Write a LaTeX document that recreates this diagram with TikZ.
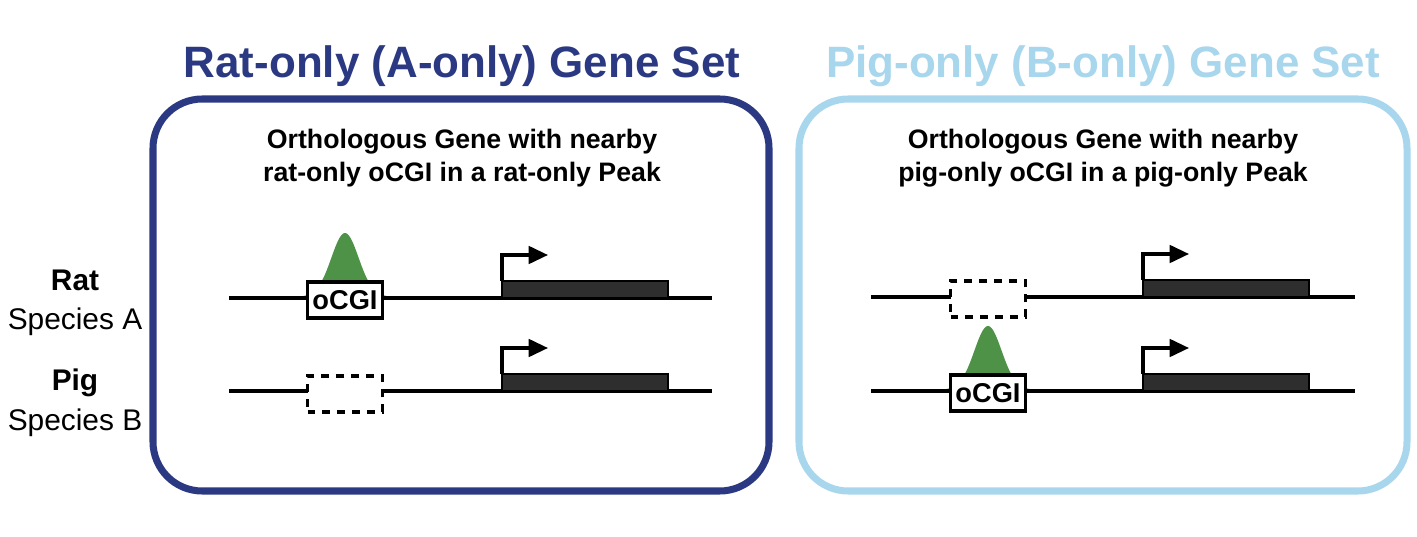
\documentclass[tikz,border=0pt]{standalone}
\usepackage{fontspec}
\setmainfont{Liberation Sans}
\usetikzlibrary{arrows.meta}
\definecolor{ratblue}{RGB}{43,57,130}
\definecolor{pigblue}{RGB}{168,214,236}
\definecolor{peakgreen}{RGB}{78,146,72}
\tikzset{
  setbox/.style={line width=4pt, rounded corners=28pt},
  settitle/.style={font=\fontsize{25}{30}\selectfont\bfseries},
  subtitle/.style={font=\fontsize{15.2}{19}\selectfont\bfseries, align=center},
  dna/.style={line width=1.9pt},
  genebar/.style={fill=black!82, draw=black, line width=1.6pt},
  cgibox/.style={draw, line width=1.8pt, fill=white, minimum width=1.5cm, minimum height=0.72cm, inner sep=0pt, font=\fontsize{15.5}{18}\selectfont\bfseries},
  emptybox/.style={cgibox, dashed, dash pattern=on 4.5pt off 4pt},
  tss/.style={line width=1.8pt, -{Triangle[length=11pt,width=10pt]}},
  species/.style={font=\fontsize{17}{22.5}\selectfont, align=center}
}
% gene with promoter arrow: #1 = left x, #2 = line y
\newcommand{\genebody}[2]{
  \draw[genebar] (#1,#2) rectangle ++(166,-17);
  \draw[tss] (#1,#2-17) -- ++(0,-26) -- ++(46,0);
}
% peak: #1 = centre x, #2 = base y, #3 = height
\newcommand{\peak}[3]{
  \fill[peakgreen] plot[domain=-58:58, samples=80, smooth] ({#1+\x},{#2-#3*exp(-(\x/19)^2)-5*exp(-(\x/38)^2)}) -- cycle;
}
\begin{document}
\begin{tikzpicture}[x=0.02cm, y=-0.02cm]
  \useasboundingbox (0,0) rectangle (1417,537);
  % titles and frames
  \node[settitle, text=ratblue] (ratTitle) at (462,66) {Rat-only (A-only) Gene Set};
  \node[settitle, text=pigblue] (pigTitle) at (1103,66) {Pig-only (B-only) Gene Set};
  \draw[setbox, ratblue] (153,99) rectangle (769,491);
  \draw[setbox, pigblue] (799,99) rectangle (1407,491);
  \node[subtitle] (ratSub) at (462,158) {Orthologous Gene with nearby\\rat-only oCGI in a rat-only Peak};
  \node[subtitle] (pigSub) at (1103,158) {Orthologous Gene with nearby\\pig-only oCGI in a pig-only Peak};

  % species labels
  \node[species] (ratLabel) at (75,303) {\textbf{Rat}\\Species A};
  \node[species] (pigLabel) at (75,403) {\textbf{Pig}\\Species B};

  % rat-only set
  \peak{345}{298}{60}
  \draw[dna] (229,298) -- (712,298);
  \draw[dna] (229,391) -- (712,391);
  \node[cgibox] (ratCGI) at (345,300) {oCGI};
  \node[emptybox] (ratGap) at (345,394) {};
  \genebody{502}{298}
  \genebody{502}{391}

  % pig-only set
  \peak{988}{391}{60}
  \draw[dna] (871,297) -- (1355,297);
  \draw[dna] (871,391) -- (1355,391);
  \node[emptybox] (pigGap) at (988,299) {};
  \node[cgibox] (pigCGI) at (988,393) {oCGI};
  \genebody{1143}{297}
  \genebody{1143}{391}
\end{tikzpicture}
\end{document}
